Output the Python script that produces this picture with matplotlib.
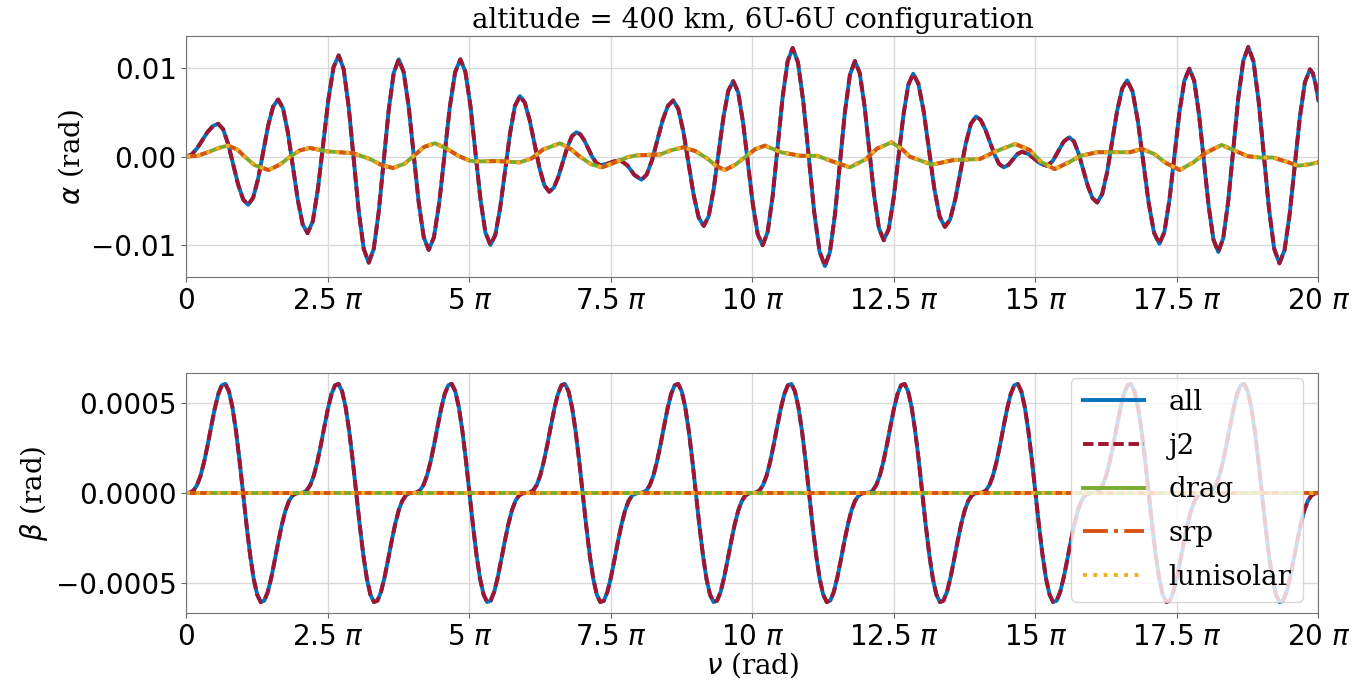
import numpy as np
import matplotlib
matplotlib.use('Agg')
import matplotlib.pyplot as plt

# nu is given in units of pi
# alpha (all / j2), values in 1e-3 rad
alpha_nu = [
    0.0, 0.093, 0.187, 0.28, 0.373, 0.467, 0.56,
    0.648, 0.737, 0.825, 0.913, 1.002, 1.09,
    1.178, 1.267, 1.355, 1.443, 1.532, 1.62,
    1.707, 1.793, 1.88, 1.967, 2.053, 2.14,
    2.232, 2.323, 2.415, 2.507, 2.598, 2.69,
    2.778, 2.867, 2.955, 3.043, 3.132, 3.22,
    3.308, 3.397, 3.485, 3.573, 3.662, 3.75,
    3.838, 3.927, 4.015, 4.103, 4.192, 4.28,
    4.373, 4.467, 4.56, 4.653, 4.747, 4.84,
    4.928, 5.017, 5.105, 5.193, 5.282, 5.37,
    5.457, 5.543, 5.63, 5.717, 5.803, 5.89,
    5.977, 6.063, 6.15, 6.237, 6.323, 6.41,
    6.49, 6.57, 6.65, 6.73, 6.81, 6.89,
    6.96, 7.03, 7.10, 7.17, 7.24, 7.31,
    7.43, 7.55, 7.66,
    7.787, 7.85, 7.913, 8.04,
    8.133, 8.227, 8.32, 8.413, 8.507, 8.60,
    8.69, 8.78, 8.87, 8.96, 9.05, 9.14,
    9.227, 9.313, 9.40, 9.487, 9.573, 9.66,
    9.747, 9.833, 9.92, 10.007, 10.093, 10.18,
    10.268, 10.357, 10.445, 10.533, 10.622, 10.71,
    10.805, 10.90, 10.995, 11.09, 11.185, 11.28,
    11.368, 11.457, 11.545, 11.633, 11.722, 11.81,
    11.895, 11.98, 12.065, 12.15, 12.235, 12.32,
    12.407, 12.493, 12.58, 12.667, 12.753, 12.84,
    12.933, 13.027, 13.12, 13.213, 13.307, 13.40,
    13.492, 13.583, 13.675, 13.767, 13.858, 13.95,
    14.032, 14.113, 14.195, 14.277, 14.358, 14.44,
    14.52, 14.60, 14.68, 14.76,
    14.87, 14.98, 15.09, 15.20,
    15.30, 15.40, 15.50, 15.60,
    15.682, 15.763, 15.845, 15.927, 16.008, 16.09,
    16.178, 16.267, 16.355, 16.443, 16.532, 16.62,
    16.715, 16.81, 16.905, 17.0, 17.095, 17.19,
    17.278, 17.367, 17.455, 17.543, 17.632, 17.72,
    17.805, 17.89, 17.975, 18.06, 18.145, 18.23,
    18.318, 18.407, 18.495, 18.583, 18.672, 18.76,
    18.852, 18.943, 19.035, 19.127, 19.218, 19.31,
    19.40, 19.49, 19.58, 19.67, 19.76, 19.85,
    19.90, 19.95, 20.0,
]
alpha_j2 = [
    0.0, 0.25, 0.93, 1.85, 2.78, 3.45, 3.70,
    3.09, 1.42, -0.86, -3.14, -4.81, -5.42,
    -4.63, -2.46, 0.51, 3.48, 5.65, 6.44,
    5.43, 2.68, -1.09, -4.86, -7.61, -8.62,
    -7.28, -3.62, 1.39, 6.40, 10.06, 11.40,
    9.84, 5.57, -0.27, -6.11, -10.38, -11.94,
    -10.41, -6.22, -0.49, 5.24, 9.43, 10.96,
    9.52, 5.60, 0.23, -5.14, -9.06, -10.50,
    -9.06, -5.14, 0.23, 5.60, 9.52, 10.96,
    9.56, 5.74, 0.51, -4.72, -8.54, -9.94,
    -8.82, -5.75, -1.56, 2.63, 5.70, 6.82,
    6.10, 4.13, 1.44, -1.26, -3.23, -3.95,
    -3.50, -2.28, -0.60, 1.08, 2.30, 2.75,
    2.50, 1.83, 0.90, -0.03, -0.70, -0.95,
    -0.81, -0.54, -0.40,
    -0.95, -1.50, -2.05, -2.60,
    -2.00, -0.37, 1.87, 4.10, 5.73, 6.33,
    5.38, 2.80, -0.74, -4.27, -6.85, -7.80,
    -6.71, -3.72, 0.36, 4.43, 7.42, 8.51,
    7.27, 3.89, -0.74, -5.36, -8.74, -9.98,
    -8.49, -4.43, 1.13, 6.69, 10.75, 12.24,
    10.59, 6.10, -0.04, -6.18, -10.67, -12.32,
    -10.77, -6.55, -0.78, 5.00, 9.22, 10.77,
    9.42, 5.72, 0.68, -4.37, -8.07, -9.42,
    -8.16, -4.73, -0.04, 4.65, 8.08, 9.34,
    8.18, 5.03, 0.72, -3.60, -6.75, -7.91,
    -7.08, -4.80, -1.70, 1.41, 3.69, 4.52,
    4.14, 3.09, 1.66, 0.23, -0.82, -1.20,
    -0.94, -0.33, 0.29, 0.55,
    0.32, -0.24, -0.79, -1.02,
    -0.55, 0.58, 1.71, 2.18,
    1.69, 0.35, -1.49, -3.33, -4.67, -5.16,
    -4.24, -1.72, 1.72, 5.15, 7.67, 8.59,
    7.36, 3.99, -0.61, -5.20, -8.57, -9.80,
    -8.48, -4.87, 0.06, 4.98, 8.59, 9.91,
    8.53, 4.75, -0.41, -5.57, -9.35, -10.73,
    -9.18, -4.96, 0.81, 6.58, 10.80, 12.35,
    10.72, 6.26, 0.17, -5.92, -10.38, -12.01,
    -10.55, -6.55, -1.09, 4.37, 8.37, 9.83,
    9.40, 8.15, 6.33,
]

# alpha for drag / srp / lunisolar (they overlap), values in 1e-3 rad
pert_nu = [
    0.0, 0.2, 0.4, 0.6, 0.74, 0.9, 1.03, 1.2, 1.45, 1.65, 1.83,
    2.0, 2.18, 2.48, 2.95, 3.24, 3.45, 3.65, 3.85, 4.0, 4.2,
    4.39, 4.6, 4.8, 5.0, 5.13, 5.5, 5.89, 6.1, 6.3, 6.6,
    6.8, 6.95, 7.15, 7.34, 7.55, 7.8, 7.95, 8.14, 8.37, 8.55,
    8.78, 9.0, 9.2, 9.35, 9.51, 9.7, 9.9, 10.05, 10.22, 10.5,
    10.84, 11.14, 11.4, 11.72, 12.0, 12.2, 12.46, 12.65, 12.78, 13.17,
    13.54, 14.02, 14.3, 14.64, 14.9, 15.1, 15.34, 15.6, 15.8, 16.09,
    16.67, 16.88, 17.1, 17.3, 17.55, 17.8, 18.0, 18.29, 18.55, 18.75,
    18.97, 19.2, 19.45, 19.64, 19.85, 20.0,
]
alpha_pert = [
    0.0, 0.1, 0.55, 1.05, 1.24, 0.8, 0.0, -0.95, -1.51, -0.9, 0.0,
    0.7, 0.98, 0.6, 0.38, -0.26, -0.95, -1.28, -0.8, 0.0, 1.1,
    1.51, 0.9, 0.1, -0.45, -0.53, -0.5, -0.64, -0.2, 0.8, 1.51,
    0.8, 0.0, -0.85, -1.2, -0.7, -0.05, 0.15, 0.2, 0.25, 0.7,
    1.06, 0.6, -0.2, -1.0, -1.51, -0.9, 0.1, 0.85, 1.24, 0.5,
    0.1, 0.1, -0.5, -1.2, -0.3, 0.9, 1.62, 0.8, 0.0, -0.9,
    -0.4, -0.26, 0.6, 1.43, 0.75, -0.6, -1.4, -0.6, 0.1, 0.5,
    0.5, 0.87, 0.3, -0.7, -1.5, -0.6, 0.4, 1.32, 0.6, 0.05,
    -0.1, -0.1, -0.6, -1.02, -0.85, -0.64,
]

# beta (all / j2): the same cycle repeats every 2 pi, read every pi/16, in 1e-4 rad
beta_cycle = [
    0.0, 0.02, 0.14, 0.44, 0.97, 1.74, 2.68, 3.71,
    4.70, 5.51, 6.00, 6.08, 5.67, 4.78, 3.46, 1.82,
    0.0, -1.82, -3.46, -4.78, -5.67, -6.08, -6.00, -5.51,
    -4.70, -3.71, -2.68, -1.74, -0.97, -0.44, -0.14, -0.02,
]
n_cycles = 10

labels = ['all', 'j2', 'drag', 'srp', 'lunisolar']
colors = ['#0072BD', '#A2142F', '#77AC30', '#D95319', '#EDB120']
styles = ['-', (0, (2.7, 1.2)), '-', '-.', ':']

nu_a = np.array(alpha_nu) * np.pi
a_j2 = np.array(alpha_j2) * 1e-3
nu_p = np.array(pert_nu) * np.pi
a_p = np.array(alpha_pert) * 1e-3

b_j2 = np.array(beta_cycle * n_cycles + [0.0]) * 1e-4
nu_b = np.arange(len(b_j2)) / 16 * np.pi
b_p = np.zeros_like(b_j2)

alpha_series = [(nu_a, a_j2), (nu_a, a_j2), (nu_p, a_p), (nu_p, a_p), (nu_p, a_p)]
beta_series = [(nu_b, b_j2), (nu_b, b_j2), (nu_b, b_p), (nu_b, b_p), (nu_b, b_p)]

serif = 'DejaVu Serif'
fs = 20

fig = plt.figure(figsize=(13.57, 6.81), dpi=100)
ax1 = fig.add_axes([0.1374, 0.5932, 0.8342, 0.3539])
ax2 = fig.add_axes([0.1374, 0.0999, 0.8342, 0.3524])

for ax, series in ((ax1, alpha_series), (ax2, beta_series)):
    for (x, y), lab, c, ls in zip(series, labels, colors, styles):
        ax.plot(x, y, linestyle=ls, color=c, lw=2.8, label=lab)
    ax.set_xlim(0, 20 * np.pi)
    ticks = np.arange(0, 20.01, 2.5)
    ax.set_xticks(ticks * np.pi)
    ax.set_xticklabels(['0'] + [f'{t:g} $\\pi$' for t in ticks[1:]])
    ax.grid(True, color='0.85', lw=1)
    ax.tick_params(labelsize=fs, color='0.4')
    for s in ax.spines.values():
        s.set_color('0.45')

ax1.set_yticks([-0.01, 0.0, 0.01])
ax2.set_yticks([-0.0005, 0.0, 0.0005])

ax1.set_title('altitude = 400 km, 6U-6U configuration', fontsize=fs, family=serif)
ax1.set_ylabel(r'$\alpha$ (rad)', fontsize=fs, family=serif)
ax2.set_ylabel(r'$\beta$ (rad)', fontsize=fs, family=serif)
ax2.set_xlabel(r'$\nu$ (rad)', fontsize=fs, family=serif, labelpad=0)

ax2.legend(loc='upper right', bbox_to_anchor=(0.986, 0.98), borderaxespad=0,
           prop={'family': serif, 'size': fs}, labelspacing=0.6,
           handlelength=2.2, handletextpad=0.9)

fig.savefig('out.png', dpi=100)
